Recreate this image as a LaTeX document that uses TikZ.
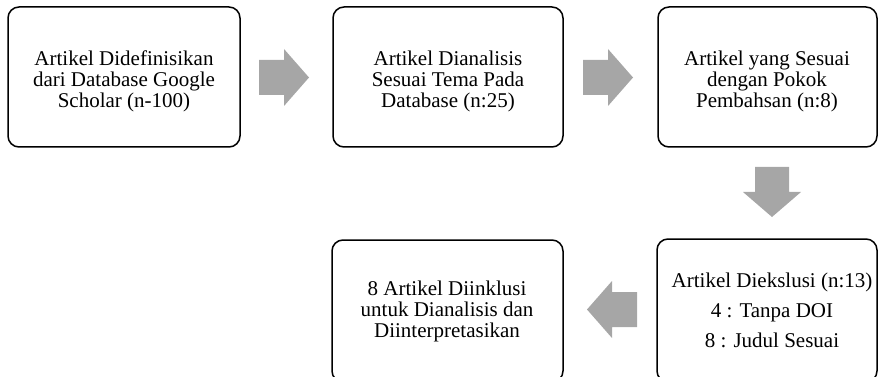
\documentclass[tikz,border=0pt]{standalone}
\usepackage{fontspec}
\setmainfont{Liberation Serif}
\definecolor{arrowgray}{RGB}{166,166,166}
\begin{document}
\begin{tikzpicture}[x=1pt,y=-1pt,
  box/.style={draw=black, line width=1.5pt, rounded corners=11pt},
  label/.style={inner sep=0pt, align=center, font=\fontsize{21}{21}\selectfont},
  blockarrow/.style={fill=arrowgray, draw=none}]
\useasboundingbox (0,0) rectangle (884,377);
% boxes
\draw[box] (8,7) rectangle (240,147);
\draw[box] (333,7) rectangle (563,147);
\draw[box] (658,7) rectangle (877,147);
\draw[box] (657,239) rectangle (877,382);
\draw[box] (332,240) rectangle (563,382);
% texts
\node[label] (t1) at (124,81) {Artikel Didefinisikan\\dari Database Google\\Scholar (n-100)};
\node[label] (t2) at (448,81) {Artikel Dianalisis\\Sesuai Tema Pada\\Database (n:25)};
\node[label] (t3) at (767,81) {Artikel yang Sesuai\\dengan Pokok\\Pembahsan (n:8)};
\node[label] (t4) at (772,310) {Artikel Diekslusi (n:13)\\[9pt]4 : Tanpa DOI\\[9pt]8 : Judul Sesuai};
\node[label] (t5) at (447,311.5) {8 Artikel Diinklusi\\untuk Dianalisis dan\\Diinterpretasikan};
% block arrows
\fill[blockarrow] (259,60) -- (284,60) -- (284,49) -- (309,77.5) -- (284,106) -- (284,95) -- (259,95) -- cycle;
\fill[blockarrow] (583,60) -- (608,60) -- (608,49) -- (633,77.5) -- (608,106) -- (608,95) -- (583,95) -- cycle;
\fill[blockarrow] (755,167) -- (789,167) -- (789,192) -- (801,192) -- (772,217) -- (743,192) -- (755,192) -- cycle;
\fill[blockarrow] (637,292) -- (612,292) -- (612,281) -- (587,309.5) -- (612,338) -- (612,327) -- (637,327) -- cycle;
\end{tikzpicture}
\end{document}
